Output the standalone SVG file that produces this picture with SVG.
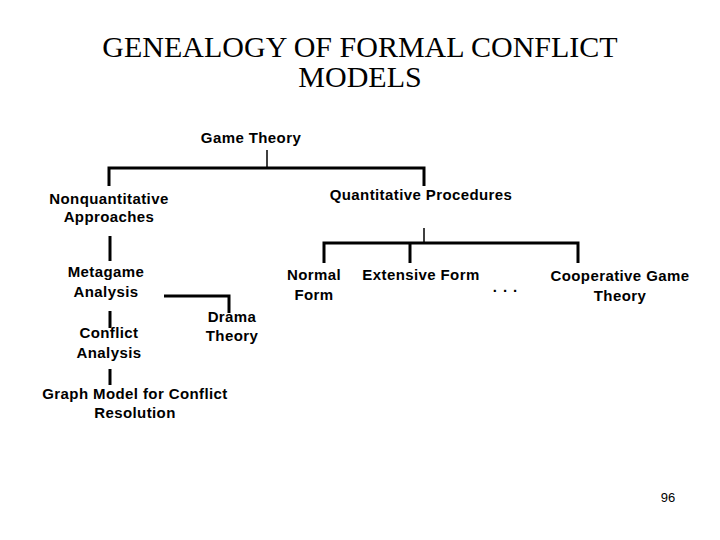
<svg xmlns="http://www.w3.org/2000/svg" width="720" height="540" viewBox="0 0 720 540">
<style>
.t{font-family:"Liberation Serif",serif;font-size:30px;text-anchor:middle;fill:#000}
.n{font-family:"Liberation Sans",Arial,sans-serif;font-size:15px;font-weight:bold;letter-spacing:0.4px;text-anchor:middle;fill:#000}
.c line,.c polyline{stroke:#000;stroke-width:3;fill:none}
</style>
<rect width="720" height="540" fill="#fff"/>
<text class="t" x="360" y="57">GENEALOGY OF FORMAL CONFLICT</text>
<text class="t" x="360" y="87">MODELS</text>
<g class="c" id="connectors">
<line x1="267" y1="150" x2="267" y2="168" style="stroke-width:1.5"/>
<polyline points="109,186 109,168 424,168 424,186"/>
<line x1="424" y1="228" x2="424" y2="243" style="stroke-width:1.5"/>
<polyline points="324,263 324,243 578,243 578,263"/>
<line x1="410" y1="243" x2="410" y2="263"/>
<line x1="110" y1="236" x2="110" y2="261"/>
<polyline points="164,296 229,296 229,313"/>
<line x1="110" y1="311" x2="110" y2="328"/>
<line x1="110" y1="369" x2="110" y2="385"/>
</g>
<g id="game"><text class="n" x="251" y="143">Game Theory</text></g>
<g id="nonq"><text class="n" x="109" y="204">Nonquantitative</text><text class="n" x="109" y="222">Approaches</text></g>
<g id="quant"><text class="n" x="421" y="200">Quantitative Procedures</text></g>
<g id="normal"><text class="n" x="314" y="280">Normal</text><text class="n" x="314" y="300">Form</text></g>
<g id="extensive"><text class="n" x="421" y="280">Extensive Form</text></g>
<g id="dots"><text class="n" x="508" y="292" style="letter-spacing:6px">...</text></g>
<g id="coop"><text class="n" x="620" y="281">Cooperative Game</text><text class="n" x="620" y="301">Theory</text></g>
<g id="metagame"><text class="n" x="106" y="277">Metagame</text><text class="n" x="106" y="297">Analysis</text></g>
<g id="drama"><text class="n" x="232" y="322">Drama</text><text class="n" x="232" y="341">Theory</text></g>
<g id="conflict"><text class="n" x="109" y="338">Conflict</text><text class="n" x="109" y="358">Analysis</text></g>
<g id="graph"><text class="n" x="135" y="399">Graph Model for Conflict</text><text class="n" x="135" y="418">Resolution</text></g>
<text x="668" y="502" style="font-family:'Liberation Sans',sans-serif;font-size:13px;text-anchor:middle">96</text>
</svg>
